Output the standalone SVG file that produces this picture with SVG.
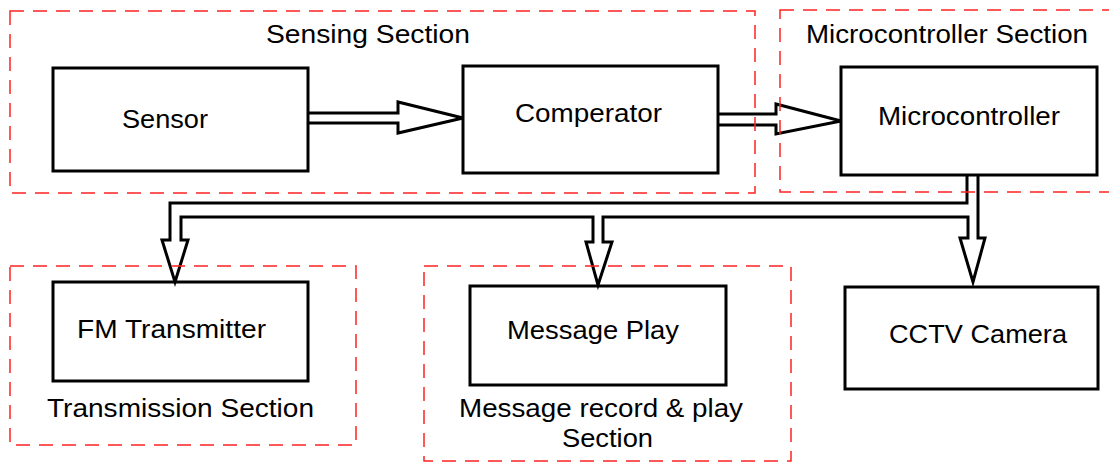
<svg xmlns="http://www.w3.org/2000/svg" width="1109" height="462" viewBox="0 0 1109 462">
<style>
.box{fill:#fff;stroke:#000;stroke-width:3}
.sec{fill:none;stroke:#f22;stroke-width:1.5;stroke-dasharray:14 9}
.con{fill:none;stroke:#000;stroke-width:3;stroke-linejoin:miter}
text{font-family:"Liberation Sans",Arial,sans-serif;font-size:25px;fill:#000}
</style>
<rect width="1109" height="462" fill="#fff"/>
<g id="sensor"><rect class="box" x="53" y="68" width="255" height="103"/><text x="122" y="128" textLength="86" lengthAdjust="spacingAndGlyphs">Sensor</text></g>
<g id="comperator"><rect class="box" x="463" y="66" width="255" height="107"/><text x="515" y="122" textLength="147" lengthAdjust="spacingAndGlyphs">Comperator</text></g>
<g id="microcontroller"><rect class="box" x="841" y="67" width="256" height="108"/><text x="878" y="125" textLength="182" lengthAdjust="spacingAndGlyphs">Microcontroller</text></g>
<g id="fm"><rect class="box" x="53" y="282" width="255" height="99"/><text x="77" y="338" textLength="189" lengthAdjust="spacingAndGlyphs">FM Transmitter</text></g>
<g id="message-play"><rect class="box" x="470" y="286" width="256" height="99"/><text x="507" y="339" textLength="172" lengthAdjust="spacingAndGlyphs">Message Play</text></g>
<g id="cctv"><rect class="box" x="845" y="287" width="253" height="102"/><text x="889" y="343" textLength="178" lengthAdjust="spacingAndGlyphs">CCTV Camera</text></g>
<g id="connectors">
<path class="con" d="M308,113 H398 V102 L463,118 L398,133 V123 H308"/>
<path class="con" d="M718,114 H776 V104 L841,121 L776,134 V125 H718"/>
<path class="con" d="M967,175 V203 H170 V240 H162 L175,282 L188,240 H181 V217 H593 V242 H586 L598,285 L612,242 H603 V217 H968 V238 H960 L973,282 L985,238 H978 V175"/>
</g>
<g id="sensing-section"><rect class="sec" x="10" y="11" width="745" height="182"/><text x="266" y="43" textLength="204" lengthAdjust="spacingAndGlyphs">Sensing Section</text></g>
<g id="microcontroller-section"><rect class="sec" x="780" y="10" width="340" height="182"/><text x="806" y="43" textLength="282" lengthAdjust="spacingAndGlyphs">Microcontroller Section</text></g>
<g id="transmission-section"><rect class="sec" x="10" y="266" width="346" height="179"/><text x="47" y="417" textLength="267" lengthAdjust="spacingAndGlyphs">Transmission Section</text></g>
<g id="message-section"><rect class="sec" x="424" y="266" width="367" height="195"/><text x="459" y="417" textLength="284" lengthAdjust="spacingAndGlyphs">Message record &amp; play</text><text x="562" y="447" textLength="91" lengthAdjust="spacingAndGlyphs">Section</text></g>
</svg>
